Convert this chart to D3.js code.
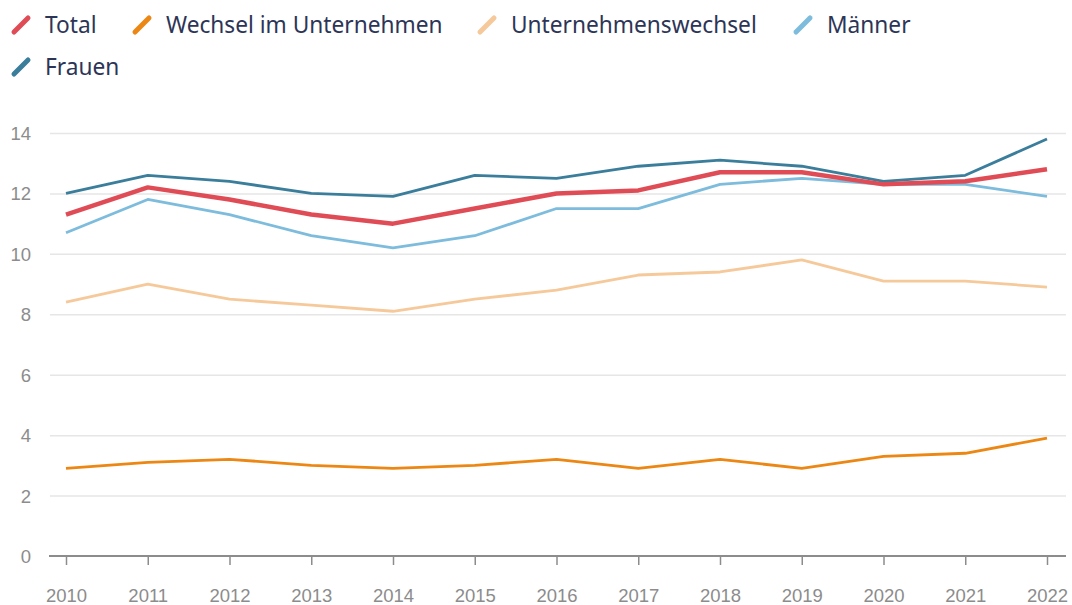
<!DOCTYPE html>
<html>
<head>
<meta charset="utf-8">
<script src="https://cdn.jsdelivr.net/npm/d3@7"></script>
<style>
	body { margin: 0; background: #fff; font-family: "Noto Sans", "Open Sans", sans-serif; }
	.grid line { stroke: #e6e6e6; stroke-width: 1.5; }
	.tick text { fill: #8c8c8c; font-size: 18.5px; }
	.legend text { fill: #2d3557; font-size: 22.7px; }
</style>
</head>
<body>
<div id="chart"></div>
<script>
	var w = 1072
	var h = 605
	var boundaries = {
		top: 133,
		bottom: 556,
		left: 66,
		right: 1047
	}

	var years = [2010, 2011, 2012, 2013, 2014, 2015, 2016, 2017, 2018, 2019, 2020, 2021, 2022]
	var yTicks = [0, 2, 4, 6, 8, 10, 12, 14]

	var seriesNames = ["Total", "Wechsel im Unternehmen", "Unternehmenswechsel", "Männer", "Frauen"]
	var seriesColors = ["#e04c55", "#ec8714", "#f6c99b", "#7dbcdc", "#3a7e9c"]

	var total = [11.3, 12.2, 11.8, 11.3, 11.0, 11.5, 12.0, 12.1, 12.7, 12.7, 12.3, 12.4, 12.8]
	var wechselIm = [2.9, 3.1, 3.2, 3.0, 2.9, 3.0, 3.2, 2.9, 3.2, 2.9, 3.3, 3.4, 3.9]
	var unternehmenswechsel = [8.4, 9.0, 8.5, 8.3, 8.1, 8.5, 8.8, 9.3, 9.4, 9.8, 9.1, 9.1, 8.9]
	var maenner = [10.7, 11.8, 11.3, 10.6, 10.2, 10.6, 11.5, 11.5, 12.3, 12.5, 12.3, 12.3, 11.9]
	var frauen = [12.0, 12.6, 12.4, 12.0, 11.9, 12.6, 12.5, 12.9, 13.1, 12.9, 12.4, 12.6, 13.8]

	var allSeries = [total, wechselIm, unternehmenswechsel, maenner, frauen]

	var svg = d3.select("#chart")
		.append("svg")
		.attr("width", w)
		.attr("height", h)

	// scales
	var xScale = d3.scaleLinear()
		.domain([2010, 2022])
		.range([boundaries.left, boundaries.right])

	var yScale = d3.scaleLinear()
		.domain([0, 14])
		.range([boundaries.bottom, boundaries.top])

	// grid lines
	svg.append("g")
		.attr("class", "grid")
		.attr("transform", "translate(50, 0)")
		.call(d3.axisLeft(yScale).tickValues(yTicks.filter(d => d > 0)).tickSize(-1016).tickFormat(""))
		.call(g => g.select(".domain").remove())

	// y labels
	svg.append("g")
		.attr("transform", "translate(34, 0)")
		.call(d3.axisLeft(yScale).tickValues(yTicks).tickSize(0))
		.call(g => g.select(".domain").remove())
		.call(g => g.selectAll("text").attr("dy", "0.35em"))

	// x axis
	var xAxis = svg.append("g")
		.attr("transform", "translate(0, " + boundaries.bottom + ")")
		.call(d3.axisBottom(xScale).tickValues(years).tickFormat(d3.format("d")).tickSize(9).tickSizeOuter(0).tickPadding(24))
	xAxis.select(".domain").remove()
	xAxis.selectAll(".tick line").attr("stroke", "#8c8c8c").attr("stroke-width", 1.5)
	svg.append("line")
		.attr("x1", 49).attr("x2", 1066)
		.attr("y1", boundaries.bottom).attr("y2", boundaries.bottom)
		.attr("stroke", "#8c8c8c").attr("stroke-width", 2)

	// lines
	var line = d3.line()
		.x((d, i) => xScale(years[i]))
		.y(d => yScale(d))

	// draw Total last so it sits on top
	var order = [2, 1, 3, 4, 0]
	order.forEach(i => {
		svg.append("path")
			.datum(allSeries[i])
			.attr("fill", "none")
			.attr("stroke", seriesColors[i])
			.attr("stroke-width", i == 0 ? 4.5 : 2.8)
			.attr("stroke-linejoin", "round")
			.attr("d", line)
	})

	// legend
	var legendPos = [[12, 25], [133, 25], [478, 25], [794, 25], [12, 67]]
	var legend = svg.append("g").attr("class", "legend")
	seriesNames.forEach((name, i) => {
		var p = legendPos[i]
		var g = legend.append("g").attr("transform", "translate(" + p[0] + "," + p[1] + ")")
		g.append("line")
			.attr("x1", 2).attr("y1", 7)
			.attr("x2", 16).attr("y2", -7)
			.attr("stroke", seriesColors[i])
			.attr("stroke-width", 5)
			.attr("stroke-linecap", "round")
		g.append("text")
			.attr("x", 33)
			.attr("y", 8)
			.text(name)
	})
</script>
</body>
</html>
